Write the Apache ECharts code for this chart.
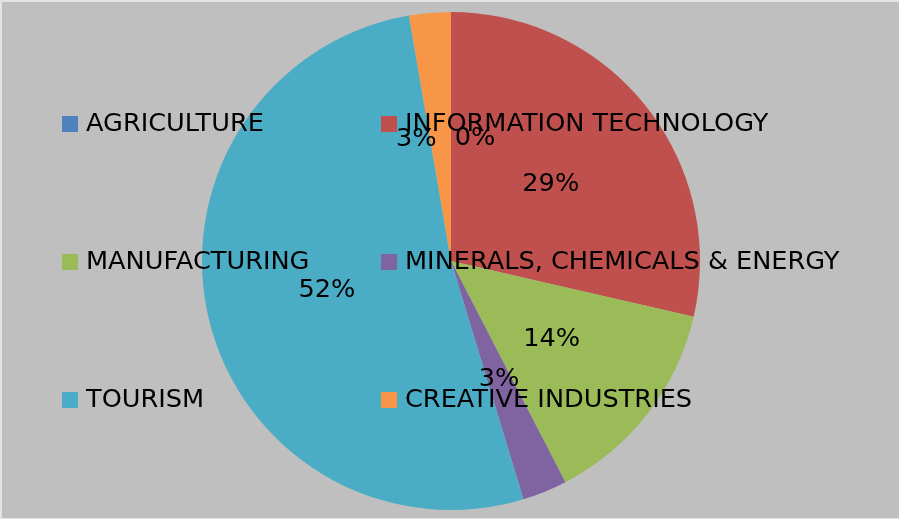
<!DOCTYPE html>
<html>
<head>
<meta charset="utf-8">
<script src="https://cdn.jsdelivr.net/npm/echarts@6/dist/echarts.min.js"></script>
<style>
  html, body { margin: 0; padding: 0; background: #e4e4e4; }
  #chart { position: absolute; left: 2px; top: 2px; width: 897px; height: 516px; }
</style>
</head>
<body>
<div id="chart"></div>
<script>
// Share of each sector
const sectors = [
  'AGRICULTURE',
  'INFORMATION TECHNOLOGY',
  'MANUFACTURING',
  'MINERALS, CHEMICALS & ENERGY',
  'TOURISM',
  'CREATIVE INDUSTRIES'
];
const shares = [0, 28.6, 13.8, 2.9, 52.0, 2.7];
const sectorColors = ['#4F81BD', '#C0504D', '#9BBB59', '#8064A2', '#4BACC6', '#F79646'];

const FONT = 'DejaVu Sans';
const FONT_SIZE = 25.6;

// Two-column legend grid laid over the pie
const legendCols = [60, 379];
const legendRows = [109, 247, 385];
const legends = sectors.map(function (name, i) {
  return {
    data: [name],
    left: legendCols[i % 2],
    top: legendRows[Math.floor(i / 2)],
    padding: 0,
    itemWidth: 16,
    itemHeight: 16,
    icon: 'rect',
    selectedMode: false,
    textStyle: {
      fontFamily: FONT, fontSize: FONT_SIZE, color: '#000',
      lineHeight: 16, padding: [0, 0, 0, 3]
    }
  };
});

// Small label nudges: the two thin slices at the top are pushed apart
const labelNudge = { 0: [24, 5], 1: [0, 3], 5: [-24, 5] };

const chart = echarts.init(document.getElementById('chart'), null, { renderer: 'canvas' });
chart.setOption({
  backgroundColor: '#BFBFBF',
  animation: false,
  color: sectorColors,
  legend: legends,
  series: [{
    type: 'pie',
    center: [449, 259],
    radius: 249,
    startAngle: 90,
    clockwise: true,
    avoidLabelOverlap: false,
    emphasis: { disabled: true },
    itemStyle: { borderWidth: 0 },
    label: {
      show: true,
      position: 'inside',
      fontFamily: FONT,
      fontSize: FONT_SIZE,
      color: '#000',
      formatter: function (p) { return Math.round(p.percent) + '%'; }
    },
    labelLine: { show: false },
    data: sectors.map(function (name, i) {
      const item = { name: name, value: shares[i] };
      if (labelNudge[i]) item.label = { offset: labelNudge[i] };
      return item;
    })
  }]
});
</script>
</body>
</html>
